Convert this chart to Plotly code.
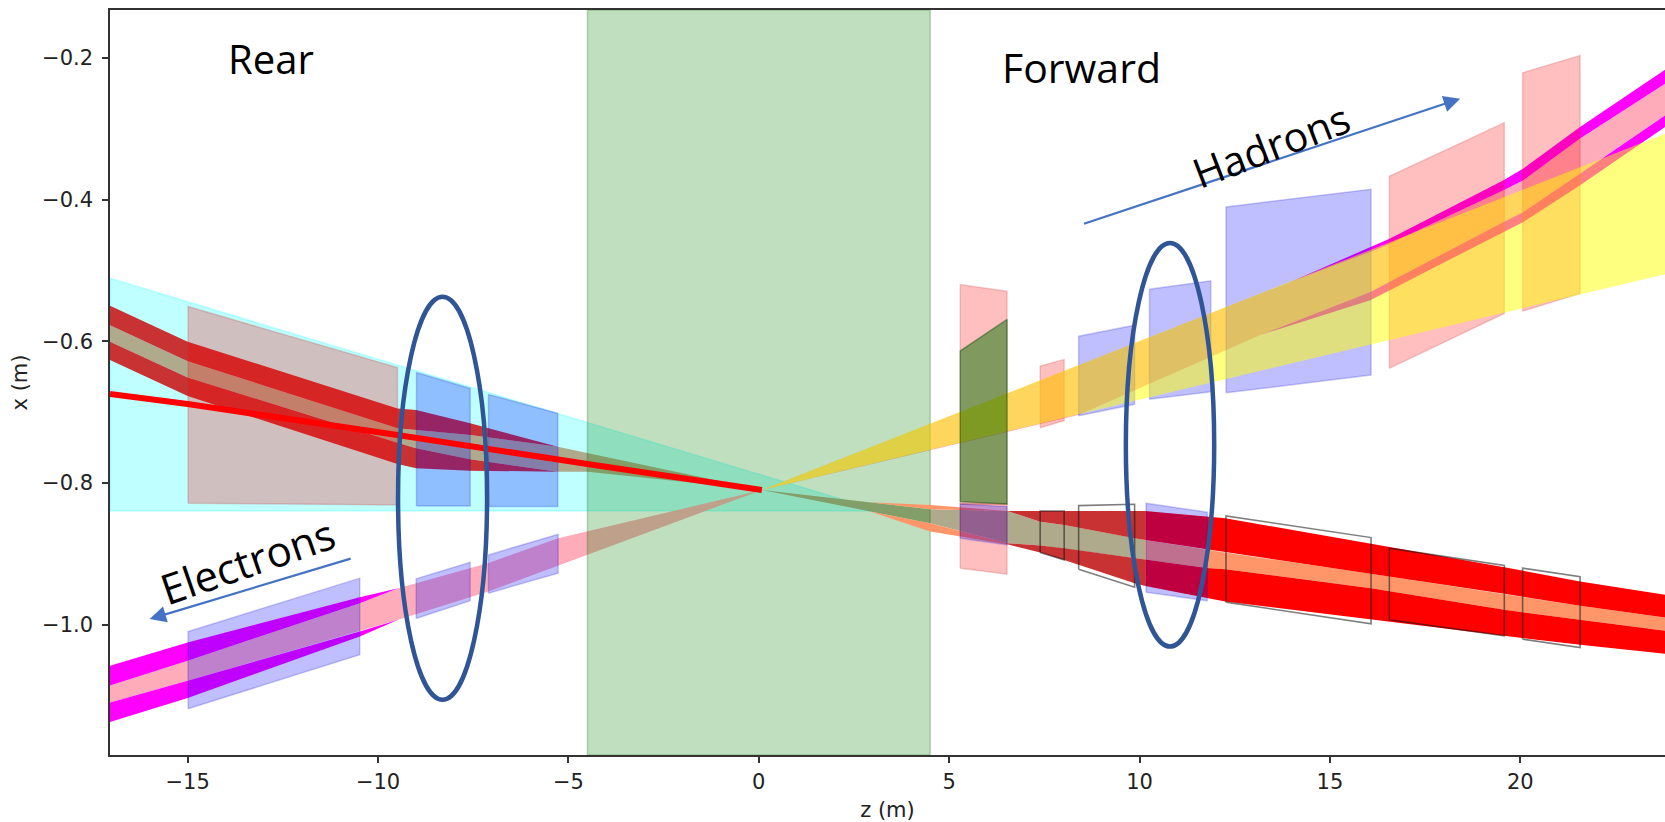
import plotly.graph_objects as go

Z_RANGE = [-17.04, 23.80]
X_RANGE = [-1.1841, -0.1322]
Z_TICKS = [-15, -10, -5, 0, 5, 10, 15, 20]
X_TICKS = [-1.0, -0.8, -0.6, -0.4, -0.2]

VERTEX_Z = 0.08
VERTEX_X = -0.81

# Tunnel and envelope regions
CAVERN_Z = [-4.5, 4.5, 4.5, -4.5]
CAVERN_X = [-1.1841, -1.1841, -0.1322, -0.1322]
CYAN_Z = [-17.04, 3.2, -17.04]
CYAN_X = [-0.511, -0.8395, -0.8395]
YELLOW_Z = [VERTEX_Z, 23.80, 23.80]
YELLOW_X = [VERTEX_X, -0.3068, -0.5052]

# Rear hadron beam pipe (upper left)
RH_Z = [-17.04, -15, -9.49, -9, -7.58, -5.28]
RH_TOP = [-0.5499, -0.6007, -0.6947, -0.697, -0.7158, -0.7488]
RH_IN_TOP = [-0.5772, -0.628, -0.7229, -0.7252, -0.7323, -0.7488]
RH_IN_BOT = [-0.6007, -0.651, -0.7432, -0.751, -0.7666, -0.784]
RH_BOT = [-0.6265, -0.6773, -0.7732, -0.7793, -0.7827, -0.784]
RH_STRIPE_Z = [-4.5]
RH_STRIPE_TOP = [-0.7577]
RH_STRIPE_BOT = [-0.784]

# Rear electron beam (lower left)
RE_Z = [-17.04, -15, -10.48, -9.47]
RE_TOP = [-1.0581, -1.0252, -0.9612, -0.9485]
RE_IN_TOP = [-1.0859, -1.051, -0.9697, -0.9485]
RE_IN_BOT = [-1.1099, -1.0793, -1.0097, -0.9932]
RE_BOT = [-1.1375, -1.1037, -1.0168, -0.9932]
RE_WEDGE_Z = [-7.1, -5.27, -4.5]
RE_WEDGE_TOP = [-0.913, -0.878, -0.868]
RE_WEDGE_BOT = [-0.9533, -0.917, -0.9016]

# Forward hadron-side beam (upper right)
FH_UP_Z = [13.96, 16.06, 16.58, 19.56, 20.08, 21.57, 23.80]
FH_UP_TOP = [-0.5161, -0.4667, -0.4549, -0.3726, -0.3561, -0.2975, -0.2165]
FH_UP_BOT = [-0.5161, -0.4738, -0.4619, -0.3867, -0.3726, -0.3138, -0.2363]
FH_LO_Z = [13.17, 16.06, 19.56, 20.08, 21.57, 23.80]
FH_LO_TOP = [-0.5912, -0.5302, -0.4314, -0.4173, -0.3632, -0.281]
FH_LO_BOT = [-0.5912, -0.5419, -0.4456, -0.4314, -0.3797, -0.2975]
FH_TIP_Z = [8.4]
FH_TIP_X = [-0.7041]

# Forward electron-side beam, dark section
FD_Z = [6.52, 7.39, 8.02, 9.87, 10.15]
FD_TOP = [-0.8395, -0.8395, -0.8395, -0.8395, -0.8395]
FD_IN_TOP = [-0.8395, -0.8546, -0.8592, -0.878, -0.8804]
FD_IN_BOT = [-0.8851, -0.8884, -0.8921, -0.9062, -0.9082]
FD_BOT = [-0.8865, -0.8983, -0.9086, -0.9415, -0.9455]

# Forward electron-side beam, bright red section
FR_Z = [10.15, 11.77, 12.25, 16.08, 19.58, 21.57, 23.80]
FR_TOP = [-0.8395, -0.8475, -0.8498, -0.886, -0.9189, -0.9392, -0.958]
FR_IN_TOP = [-0.8804, -0.8945, -0.8983, -0.9283, -0.9566, -0.9735, -0.99]
FR_IN_BOT = [-0.9082, -0.9199, -0.9217, -0.9485, -0.9791, -0.9932, -1.0087]
FR_BOT = [-0.9455, -0.9626, -0.9674, -0.9923, -1.0158, -1.0285, -1.0412]

# Tapered wedge between the vertex and the dark section
FW_Z = [2.9, 4.5, 6.52]
FW_OUT_TOP = [-0.8273, -0.831, -0.8395]
FW_IN_TOP = [-0.8273, -0.8371, -0.8395]
FW_IN_BOT = [-0.8399, -0.8568, -0.8851]
FW_OUT_BOT = [-0.8399, -0.8687, -0.8865]

# Red line on the rear side
LINE_Z = [-17.04, -15, -9.49, -6.79, -4.5, VERTEX_Z]
LINE_X = [-0.6745, -0.6886, -0.7323, -0.7535, -0.7732, VERTEX_X]

# Magnet boxes: left z, right z, left bottom, left top, right top, right bottom
RED_BRICK = (-14.99, -9.49, -0.8286, -0.551, -0.637, -0.831)
BLUE_R1 = (-8.99, -7.58, -0.8325, -0.644, -0.6665, -0.8325)
BLUE_R2 = (-7.1, -5.28, -0.8334, -0.675, -0.7017, -0.8334)
BLUE_E1 = (-14.99, -10.48, -1.1188, -1.0097, -0.9344, -1.0426)
BLUE_E2 = (-9.0, -7.58, -0.9914, -0.9354, -0.9119, -0.9664)
BLUE_E3 = (-7.1, -5.27, -0.9556, -0.9016, -0.8724, -0.9274)
PINK_F1_UP = (5.29, 6.52, -0.8296, -0.5198, -0.5292, -0.8296)
PINK_F1_LO = (5.29, 6.52, -0.9203, -0.8296, -0.8296, -0.9288)
GREEN_F1 = (5.29, 6.52, -0.8264, -0.6134, -0.5691, -0.8296)
BLUE_F_LO = (5.29, 6.52, -0.878, -0.8296, -0.8334, -0.8874)
PINK_F2 = (7.39, 8.02, -0.722, -0.635, -0.6255, -0.7121)
BLUE_F3 = (8.4, 9.87, -0.7051, -0.5927, -0.5772, -0.689)
BLUE_F4 = (10.26, 11.87, -0.6819, -0.5264, -0.5146, -0.6712)
BLUE_F5 = (12.27, 16.08, -0.6726, -0.4103, -0.3853, -0.6477)
PINK_F6 = (16.56, 19.58, -0.6382, -0.367, -0.2913, -0.5607)
PINK_F7 = (20.06, 21.57, -0.5574, -0.2208, -0.1963, -0.5324)
BLUE_F4_LO = (10.17, 11.78, -0.9542, -0.8286, -0.8413, -0.9664)

# Outline-only magnets on the forward electron line
OUT_A = (7.39, 8.02, -0.8983, -0.8395, -0.8395, -0.9086)
OUT_B = (8.4, 9.87, -0.9217, -0.832, -0.83, -0.9471)
OUT_C = (12.27, 16.08, -0.9683, -0.8465, -0.8771, -0.9989)
OUT_D = (16.56, 19.58, -0.9932, -0.8921, -0.9166, -1.0158)
OUT_E = (20.06, 21.57, -1.0205, -0.9203, -0.9322, -1.0323)

# Ellipses: centre z, half width, centre x, half height
ELLIPSE_REAR = (-8.306, 1.169, -0.8216, 0.2845)
ELLIPSE_FWD = (10.8, 1.16, -0.746, 0.2849)

# Arrows: tail z, tail x, tip z, tip x
ARROW_E = (-10.68, -0.9062, -16.0, -0.9922)
ARROW_H = (8.5, -0.4347, 18.42, -0.2574)

FONT = "Open Sans"
AXFONT = "DejaVu Sans"

fig = go.Figure()


def poly(z, x, fill, line=None, width=1.5):
    fig.add_trace(go.Scatter(
        x=list(z) + [z[0]], y=list(x) + [x[0]], mode="lines", fill="toself",
        fillcolor=fill,
        line=dict(color=line or "rgba(0,0,0,0)", width=width if line else 0),
        hoverinfo="skip", showlegend=False))


def band(z, upper, lower, fill):
    poly(list(z) + list(z)[::-1], list(upper) + list(lower)[::-1], fill)


def box(b, fill, line, width=1.5):
    z0, z1, lb, lt, rt, rb = b
    poly([z0, z0, z1, z1], [lb, lt, rt, rb], fill, line, width)


PINK = "rgb(255,172,186)"
MAGENTA = "rgb(255,0,255)"
DARK = "rgb(200,50,50)"
TAN = "rgb(175,170,140)"
SALMON = "rgb(255,150,105)"
RED = "rgb(255,0,0)"
RED_A = "rgba(255,0,0,0.25)"
BLUE_A = "rgba(0,0,255,0.25)"
RED_L = "rgba(190,50,50,0.22)"
BLUE_L = "rgba(0,0,200,0.2)"

# cyan envelope
poly(CYAN_Z, CYAN_X, "rgba(0,255,255,0.25)", "rgba(0,255,255,0.2)", 1.5)

# rear electron wedge and bands
wedge_z = [VERTEX_Z] + RE_WEDGE_Z[::-1] + RE_Z[::-1] + RE_Z + RE_WEDGE_Z
wedge_x = ([VERTEX_X] + RE_WEDGE_TOP[::-1] + RE_IN_TOP[::-1] + RE_IN_BOT + RE_WEDGE_BOT)
poly(wedge_z, wedge_x, PINK)
band(RE_Z, RE_TOP, RE_IN_TOP, MAGENTA)
band(RE_Z, RE_IN_BOT, RE_BOT, MAGENTA)

# rear hadron stripe and bands
tan_z = RH_Z + RH_STRIPE_Z + [VERTEX_Z] + RH_STRIPE_Z + RH_Z[::-1]
tan_x = RH_IN_TOP + RH_STRIPE_TOP + [VERTEX_X] + RH_STRIPE_BOT + RH_IN_BOT[::-1]
poly(tan_z, tan_x, TAN)
band(RH_Z, RH_TOP, RH_IN_TOP, DARK)
band(RH_Z, RH_IN_BOT, RH_BOT, DARK)

# forward upper beam
fh_z = [VERTEX_Z] + FH_UP_Z + FH_LO_Z[::-1] + FH_TIP_Z
fh_x = [VERTEX_X] + FH_UP_BOT + FH_LO_TOP[::-1] + FH_TIP_X
poly(fh_z, fh_x, PINK)
band(FH_UP_Z, FH_UP_TOP, FH_UP_BOT, MAGENTA)
band(FH_LO_Z, FH_LO_TOP, FH_LO_BOT, MAGENTA)

# forward lower beam
tan2_z = [VERTEX_Z] + FW_Z + FD_Z[1:] + FD_Z[:0:-1] + FW_Z[::-1]
tan2_x = [VERTEX_X] + FW_IN_TOP + FD_IN_TOP[1:] + FD_IN_BOT[:0:-1] + FW_IN_BOT[::-1]
poly(tan2_z, tan2_x, TAN)
band(FD_Z, FD_TOP, FD_IN_TOP, DARK)
band(FD_Z, FD_IN_BOT, FD_BOT, DARK)
band(FR_Z, FR_IN_TOP, FR_IN_BOT, SALMON)
band(FR_Z, FR_TOP, FR_IN_TOP, RED)
band(FR_Z, FR_IN_BOT, FR_BOT, RED)

# cavern region
poly(CAVERN_Z, CAVERN_X, "rgba(0,128,0,0.25)", "rgba(0,100,0,0.25)", 1.5)

# salmon slivers
band(FW_Z, FW_OUT_TOP, FW_IN_TOP, SALMON)
band(FW_Z, FW_IN_BOT, FW_OUT_BOT, SALMON)

# magnets
for b in (RED_BRICK, PINK_F1_UP, PINK_F1_LO, PINK_F2, PINK_F6, PINK_F7):
    box(b, RED_A, RED_L)
for b in (BLUE_R1, BLUE_R2, BLUE_E1, BLUE_E2, BLUE_E3, BLUE_F_LO, BLUE_F3, BLUE_F4, BLUE_F5, BLUE_F4_LO):
    box(b, BLUE_A, BLUE_L)

# yellow hadron cone lies over the magnets
poly(YELLOW_Z, YELLOW_X, "rgba(255,255,0,0.5)")

box(GREEN_F1, "rgba(0,115,0,0.5)", "rgba(0,70,0,0.4)", 1.5)
for b in (OUT_A, OUT_B, OUT_C, OUT_D, OUT_E):
    box(b, "rgba(0,0,0,0)", "rgba(20,20,20,0.55)", 1.6)

# red line
fig.add_trace(go.Scatter(x=LINE_Z, y=LINE_X, mode="lines",
                         line=dict(color=RED, width=6), hoverinfo="skip", showlegend=False))

for (zc, hz, xc, hx) in (ELLIPSE_REAR, ELLIPSE_FWD):
    fig.add_shape(type="circle", xref="x", yref="y", x0=zc - hz, x1=zc + hz,
                  y0=xc - hx, y1=xc + hx, line=dict(color="#2f5597", width=4.5),
                  fillcolor="rgba(0,0,0,0)", layer="above")

for (tz, tx, hz, hx) in (ARROW_E, ARROW_H):
    fig.add_annotation(x=hz, y=hx, ax=tz, ay=tx, xref="x", yref="y", axref="x", ayref="y",
                       text="", showarrow=True, arrowhead=2, arrowsize=1.5, arrowwidth=2.2,
                       arrowcolor="#4472c4")

for text, z, x, angle, size in (("Rear", -12.82, -0.2006, 0, 40),
                                ("Forward", 8.47, -0.212, 0, 41),
                                ("Hadrons", 13.45, -0.3233, -21, 41),
                                ("Electrons", -13.42, -0.91, -19, 42)):
    fig.add_annotation(x=z, y=x, xref="x", yref="y", text=text, showarrow=False, textangle=angle,
                       font=dict(family=FONT, size=size, color="black"))

fig.update_layout(
    width=1665, height=822, autosize=False,
    margin=dict(l=109.5, r=0, t=9.5, b=66.7, pad=0),
    paper_bgcolor="white", plot_bgcolor="white", showlegend=False,
    font=dict(family=AXFONT, size=21, color="#222222"),
)
fig.update_xaxes(range=Z_RANGE, tickmode="array", tickvals=Z_TICKS, showgrid=False, zeroline=False,
                 showline=True, mirror=True, linecolor="#333333", linewidth=1.5,
                 ticks="outside", ticklen=6, tickwidth=1.5, tickcolor="#333333",
                 ticklabelstandoff=1,
                 title=dict(text="z (m)", standoff=11, font=dict(size=21)))
fig.update_yaxes(range=X_RANGE, tickmode="array", tickvals=X_TICKS, tickformat=".1f",
                 showgrid=False, zeroline=False, showline=True, mirror=False,
                 linecolor="#333333", linewidth=1.5, ticks="outside", ticklen=6, tickwidth=1.5,
                 tickcolor="#333333", ticklabelstandoff=5,
                 title=dict(text="x (m)", standoff=9, font=dict(size=21)))

fig.write_html("out.html", config={"displayModeBar": False},
               post_script="document.body.style.margin='0';document.documentElement.style.overflow='hidden';")
